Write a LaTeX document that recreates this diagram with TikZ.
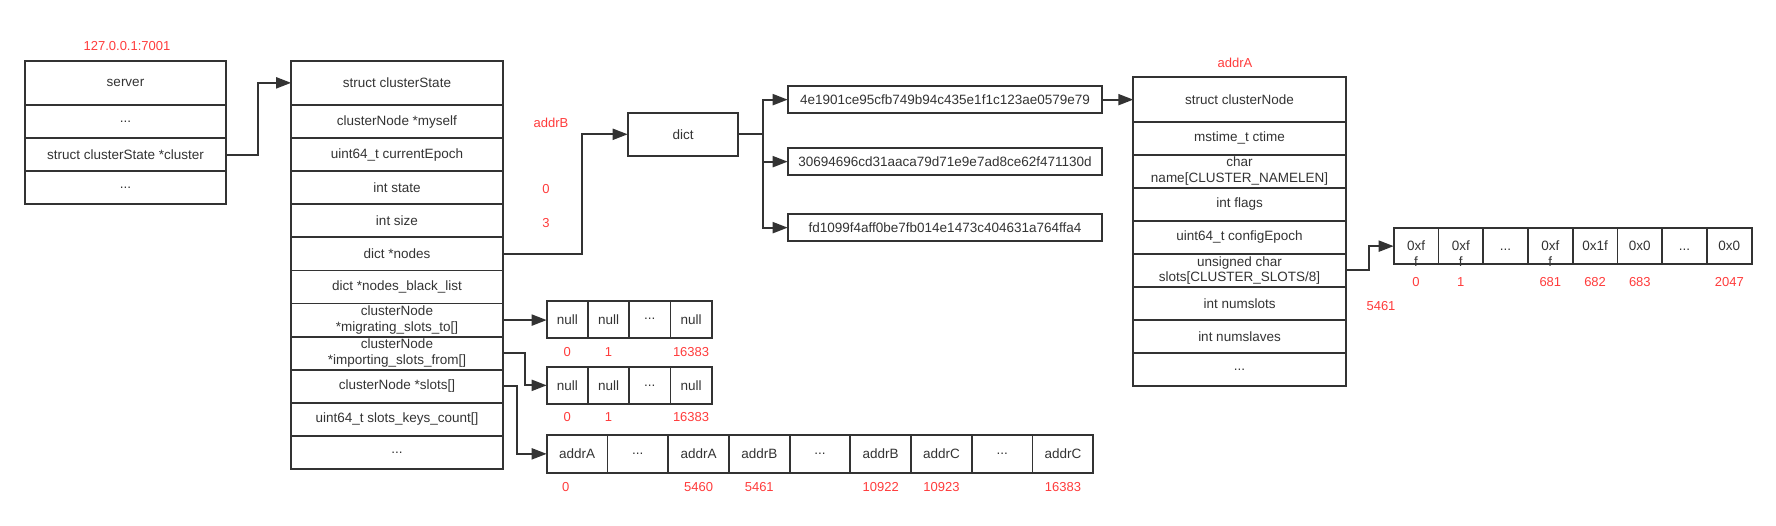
\documentclass[tikz,border=0pt]{standalone}
\usepackage{fontspec}
\setmainfont{Liberation Sans}
\usetikzlibrary{arrows.meta,calc}
\definecolor{ink}{HTML}{333333}
\definecolor{lbl}{HTML}{FF3B3B}
\def\mydots{...}
\begin{document}
\begin{tikzpicture}[x=1pt,y=-1pt,
  frame/.style={draw=ink, line width=1.8pt, inner sep=0pt, outer sep=0pt, text=ink, font=\fontsize{13.5}{15.7}\selectfont},
  box/.style={frame, align=center},
  lab/.style={text=lbl, font=\fontsize{13}{15}\selectfont, inner sep=0pt},
  arr/.style={draw=ink, line width=2pt, -{Triangle[length=15pt,width=11pt]}},
]
\useasboundingbox (0,0) rectangle (1776,526);

% server struct
\node[lab] (ip) at (127,46) {127.0.0.1:7001};
\node[box, minimum width=201pt, minimum height=44.3pt] (srv0) at (125.5,82.85) {server};
\node[box, minimum width=201pt, minimum height=33.3pt] (srv1) at (125.5,121.65) {\mydots};
\node[box, minimum width=201pt, minimum height=32.7pt] (srv2) at (125.5,154.65) {struct clusterState *cluster};
\node[box, minimum width=201pt, minimum height=33.3pt] (srv3) at (125.5,187.65) {\mydots};

% clusterState
\node[box, minimum width=211.7pt, minimum height=44.3pt] (cs0) at (397,82.85) {struct clusterState};
\foreach \i/\t in {1/clusterNode *myself, 2/uint64\_t currentEpoch, 3/int state, 4/int size, 5/dict *nodes, 6/dict *nodes\_black\_list, 7/{clusterNode\\*migrating\_slots\_to[]}, 8/{clusterNode\\*importing\_slots\_from[]}, 9/clusterNode *slots[], 10/uint64\_t slots\_keys\_count[], 11/\mydots}
  \node[box, minimum width=211.7pt, minimum height=33.09pt] (cs\i) at (397,{105+33.09*(\i-0.5)}) {\t};

\node[lab] (addrB) at (551,123.3) {addrB};
\node[lab] (vstate) at (546,189) {0};
\node[lab] (vsize) at (546,222.7) {3};

% dict
\node[box, minimum width=110.6pt, minimum height=43.3pt] (dict) at (683,134.3) {dict};
\node[box, minimum width=314.6pt, minimum height=27.3pt] (h1) at (945,99.65) {4e1901ce95cfb749b94c435e1f1c123ae0579e79};
\node[box, minimum width=314.6pt, minimum height=26.7pt] (h2) at (945,161.65) {30694696cd31aaca79d71e9e7ad8ce62f471130d};
\node[box, minimum width=314.6pt, minimum height=26.7pt] (h3) at (945,227.65) {fd1099f4aff0be7fb014e1473c404631a764ffa4};

% clusterNode
\node[lab] (addrA) at (1235,62.7) {addrA};
\node[box, minimum width=212.4pt, minimum height=44.4pt] (cn0) at (1239.5,99.5) {struct clusterNode};
\foreach \i/\t in {1/mstime\_t ctime, 2/{char\\name[CLUSTER\_NAMELEN]}, 3/int flags, 4/uint64\_t configEpoch, 5/{unsigned char\\slots[CLUSTER\_SLOTS/8]}, 6/int numslots, 7/int numslaves, 8/\mydots}
  \node[box, minimum width=212.4pt, minimum height=33.04pt] (cn\i) at (1239.5,{121.7+33.04*(\i-0.5)}) {\t};
\node[lab] (numslots) at (1381,305.7) {5461};

% slots bitmap
\tikzset{bcell/.style={frame, minimum width=44.75pt, minimum height=35.7pt, text height=9.7pt, text depth=0pt}}
\node[bcell] (b1) at ({1393.7+44.75*0.5},246.15) {\begin{tabular}[t]{@{}c@{}}0xf\\f\end{tabular}};
\node[bcell] (b2) at ({1393.7+44.75*1.5},246.15) {\begin{tabular}[t]{@{}c@{}}0xf\\f\end{tabular}};
\node[bcell] (b3) at ({1393.7+44.75*2.5},246.15) {\mydots};
\node[bcell] (b4) at ({1393.7+44.75*3.5},246.15) {\begin{tabular}[t]{@{}c@{}}0xf\\f\end{tabular}};
\node[bcell] (b5) at ({1393.7+44.75*4.5},246.15) {0x1f};
\node[bcell] (b6) at ({1393.7+44.75*5.5},246.15) {0x0};
\node[bcell] (b7) at ({1393.7+44.75*6.5},246.15) {\mydots};
\node[bcell] (b8) at ({1393.7+44.75*7.5},246.15) {0x0};
\foreach \i/\t in {1/0,2/1,4/681,5/682,6/683,8/2047}
  \node[lab] (bl\i) at ($(b\i)+(0,36.15)$) {\t};

% migrating / importing arrays
\foreach \i/\t in {1/null,2/null,3/\mydots,4/null} {
  \node[box, minimum width=41.25pt, minimum height=37pt] (m\i) at ({546.7+41.25*(\i-0.5)},319.2) {\t};
  \node[box, minimum width=41.25pt, minimum height=37.3pt] (i\i) at ({546.7+41.25*(\i-0.5)},385.35) {\t};
}
\foreach \i/\t in {1/0,2/1,4/16383} {
  \node[lab] (ml\i) at ($(m\i)+(0,32.5)$) {\t};
  \node[lab] (il\i) at ($(i\i)+(0,32)$) {\t};
}

% slots array
\foreach \i/\t in {1/addrA,2/\mydots,3/addrA,4/addrB,5/\mydots,6/addrB,7/addrC,8/\mydots,9/addrC}
  \node[box, minimum width=60.73pt, minimum height=37.7pt] (s\i) at ({546.7+60.73*(\i-0.5)},453.85) {\t};
\node[lab] (sl1) at (565.7,486.7) {0};
\foreach \i/\t in {3/5460,4/5461,6/10922,7/10923,9/16383}
  \node[lab] (sl\i) at ($(s\i)+(0,32.85)$) {\t};

% connectors
\draw[arr] (srv2.east) -- ++(32,0) |- (cs0.west);
\draw[arr] (cs5.east) -- ++(79.6,0) |- (dict.west);
\coordinate (j) at ($(dict.east)+(25,0)$);
\draw[draw=ink, line width=2pt] (dict.east) -- (j);
\draw[arr] (j) |- (h1.west);
\draw[arr] (j) |- (h2.west);
\draw[arr] (j) |- (h3.west);
\draw[arr] (h1.east) -- (h1.east -| cn0.west);
\draw[arr] (cn5.east) -- ++(23.6,0) |- (b1.west);
\draw[arr] (cs7.east) -- (cs7.east -| m1.west);
\draw[arr] (cs8.east) -- ++(22.3,0) |- (i1.west);
\draw[arr] (cs9.east) -- ++(14,0) |- (s1.west);
\end{tikzpicture}
\end{document}
